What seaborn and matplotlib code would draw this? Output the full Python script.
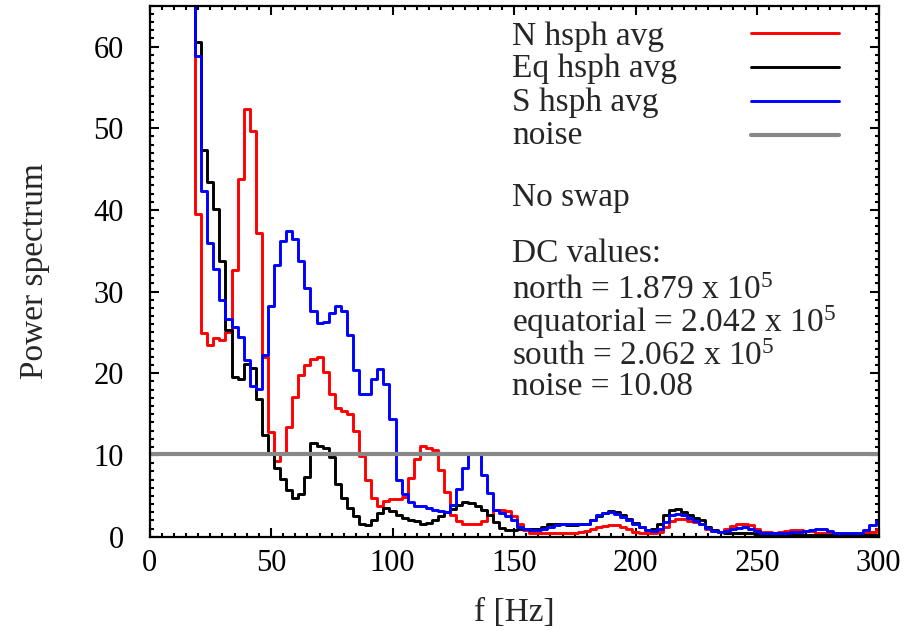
import numpy as np
import pandas as pd
import matplotlib
matplotlib.use("Agg")
import matplotlib.pyplot as plt
from matplotlib.lines import Line2D
from matplotlib.ticker import MultipleLocator
import seaborn as sns

# --- data: step spectra, 2.5 Hz bins starting at 17.5 Hz ---
F_START = 17.5
F_STEP = 2.5

north_avg = [
    90.0, 39.5, 24.9, 23.5, 24.3, 24.1, 25.0, 32.7, 43.8, 52.4,
    49.7, 37.2, 22.0, 12.8, 9.3, 10.1, 13.4, 17.1, 19.8, 21.0,
    21.7, 22.0, 20.2, 17.5, 15.8, 15.4, 15.0, 13.0, 9.9, 7.0,
    4.7, 3.8, 4.4, 4.6, 4.6, 4.9, 7.2, 9.5, 11.1, 10.8,
    10.6, 8.2, 5.5, 2.6, 1.9, 1.5, 1.5, 1.5, 1.9, 2.7,
    3.3, 3.3, 3.1, 2.5, 1.6, 0.8, 0.5, 0.4, 0.4, 0.4,
    0.4, 0.4, 0.5, 0.5, 0.6, 0.7, 1.0, 1.2, 1.3, 1.4,
    1.4, 1.2, 0.9, 0.6, 0.4, 0.4, 0.4, 0.6, 1.2, 1.9,
    2.2, 2.2, 1.9, 1.8, 1.6, 1.0, 0.7, 0.6, 0.9, 1.3,
    1.5, 1.6, 1.4, 0.9, 0.6, 0.6, 0.5, 0.6, 0.7, 0.8,
    0.8, 0.7, 0.7, 0.5, 0.4, 0.4, 0.4, 0.3, 0.3, 0.3,
    0.3, 0.4, 0.6, 1.0,
]

equatorial_avg = [
    90.0, 60.5, 47.3, 43.4, 40.1, 33.7, 25.3, 19.6, 19.3, 21.2,
    20.6, 16.9, 12.4, 10.1, 8.4, 7.1, 5.7, 4.8, 5.2, 7.3,
    11.5, 11.1, 10.9, 9.7, 6.4, 4.7, 3.5, 2.5, 1.6, 1.4,
    2.1, 2.9, 3.5, 3.2, 2.7, 2.3, 2.1, 1.9, 1.6, 1.7,
    2.0, 2.5, 3.0, 3.4, 3.9, 4.2, 4.1, 3.8, 3.3, 2.6,
    1.8, 1.1, 0.8, 0.8, 1.0, 1.0, 0.9, 0.9, 1.2, 1.5,
    1.5, 1.5, 1.4, 1.4, 1.5, 1.6, 2.0, 2.5, 2.9, 3.1,
    3.0, 2.6, 2.2, 1.7, 1.2, 0.8, 0.9, 1.5, 2.7, 3.3,
    3.4, 3.0, 2.6, 2.3, 2.1, 1.2, 0.8, 0.6, 0.5, 0.4,
    0.4, 0.4, 0.4, 0.3, 0.3, 0.3, 0.3, 0.3, 0.2, 0.2,
    0.2, 0.2, 0.2, 0.2, 0.2, 0.2, 0.2, 0.2, 0.2, 0.2,
    0.2, 0.2, 0.2, 0.2,
]

south_avg = [
    90.0, 58.8, 42.3, 36.0, 32.8, 29.0, 26.6, 25.7, 24.5, 21.6,
    18.4, 18.1, 22.2, 28.2, 33.3, 36.2, 37.4, 36.4, 33.8, 30.5,
    27.6, 26.1, 26.3, 27.4, 28.2, 27.6, 24.7, 20.4, 17.5, 17.5,
    19.3, 20.5, 18.7, 14.4, 7.0, 5.2, 4.2, 3.8, 3.7, 3.5,
    3.3, 3.1, 3.0, 3.9, 5.8, 8.4, 10.3, 10.3, 7.6, 5.3,
    3.3, 2.9, 2.5, 2.1, 1.2, 1.0, 0.8, 0.8, 1.0, 1.2,
    1.4, 1.5, 1.5, 1.5, 1.5, 1.6, 2.1, 2.7, 2.9, 3.0,
    2.8, 2.4, 2.0, 1.6, 1.2, 0.8, 0.7, 1.0, 1.8, 2.6,
    2.8, 2.6, 2.3, 1.9, 1.5, 1.1, 0.7, 0.6, 0.7, 0.9,
    1.1, 1.2, 1.0, 0.7, 0.5, 0.4, 0.4, 0.4, 0.5, 0.6,
    0.6, 0.7, 0.8, 0.9, 0.9, 0.7, 0.5, 0.4, 0.4, 0.4,
    0.5, 0.8, 1.4, 1.9,
]

noise_level = 10.08

series_labels = ["N hsph avg", "Eq hsph avg", "S hsph avg"]
series_colors = ["#ff0000", "#000000", "#0000ff"]
noise_label = "noise"
noise_color = "#888888"
note_text = "No swap"
dc_lines = [
    "DC values:",
    r"north = 1.879 x 10$^{5}$",
    r"equatorial = 2.042 x 10$^{5}$",
    r"south = 2.062 x 10$^{5}$",
    "noise = 10.08",
]

# --- style ---
sns.set_style("ticks")
plt.rcParams["font.family"] = ["Liberation Serif", "DejaVu Serif"]
plt.rcParams["mathtext.fontset"] = "custom"
plt.rcParams["mathtext.rm"] = "Liberation Serif"
plt.rcParams["mathtext.it"] = "Liberation Serif:italic"
plt.rcParams["mathtext.bf"] = "Liberation Serif:bold"
TEXT_SIZE = 24
TICK_SIZE = 22
LINE_W = 2.1
NOISE_W = 3.0

# text block layout (axes fraction, baselines)
TEXT_X = 0.497
KEY_BASELINES = [0.926, 0.865, 0.802, 0.740]
NOTE_BASELINE = 0.623
DC_BASELINES = [0.517, 0.448, 0.385, 0.323, 0.267]


def build_frame():
    n = len(north_avg)
    freqs = F_START + F_STEP * np.arange(n)
    frames = []
    for label, vals in zip(series_labels, [north_avg, equatorial_avg, south_avg]):
        frames.append(pd.DataFrame({"f": freqs, "power": vals, "series": label}))
    return pd.concat(frames, ignore_index=True)


def main():
    df = build_frame()
    fig = plt.figure(figsize=(9.24, 6.36), dpi=100)
    ax = fig.add_axes([0.1618, 0.1561, 0.789, 0.835])

    for label, color in zip(series_labels, series_colors):
        sub = df[df["series"] == label]
        sns.lineplot(data=sub, x="f", y="power", ax=ax, color=color,
                     drawstyle="steps-mid", linewidth=LINE_W, estimator=None,
                     sort=False, legend=False)
    ax.axhline(noise_level, color=noise_color, linewidth=NOISE_W)

    ax.set_xlim(0, 300)
    ax.set_ylim(0, 65)
    ax.xaxis.set_major_locator(MultipleLocator(50))
    ax.xaxis.set_minor_locator(MultipleLocator(5))
    ax.yaxis.set_major_locator(MultipleLocator(10))
    ax.yaxis.set_minor_locator(MultipleLocator(1))
    ax.tick_params(which="both", direction="in", top=True, right=True,
                   width=1.5, labelsize=TICK_SIZE, colors="black")
    ax.tick_params(which="major", length=6.5)
    ax.tick_params(which="minor", length=3)
    ax.tick_params(axis="y", which="major", pad=18.5)
    ax.tick_params(axis="x", which="major", pad=9)
    for sp in ax.spines.values():
        sp.set_linewidth(1.6)
        sp.set_color("black")

    ax.set_xlabel("f [Hz]", fontsize=TEXT_SIZE, labelpad=14)
    ax.set_ylabel("Power spectrum", fontsize=TEXT_SIZE, labelpad=31)

    # key: sample lines via legend handles, labels as left-aligned text
    handles = [Line2D([], [], color=c, linewidth=LINE_W) for c in series_colors]
    handles.append(Line2D([], [], color=noise_color, linewidth=NOISE_W))
    ax.legend(handles, [" "] * 4, loc="upper left", bbox_to_anchor=(0.825, 0.970),
              frameon=False, fontsize=TEXT_SIZE, handlelength=2.64,
              handletextpad=0.0, labelspacing=0.10, borderaxespad=0,
              borderpad=0)
    for label, yb in zip(series_labels + [noise_label], KEY_BASELINES):
        ax.text(TEXT_X, yb, label, transform=ax.transAxes,
                fontsize=TEXT_SIZE, va="baseline", ha="left")

    ax.text(TEXT_X, NOTE_BASELINE, note_text, transform=ax.transAxes,
            fontsize=TEXT_SIZE, va="baseline", ha="left")
    for line, yb in zip(dc_lines, DC_BASELINES):
        ax.text(TEXT_X, yb, line, transform=ax.transAxes,
                fontsize=TEXT_SIZE, va="baseline", ha="left")

    fig.savefig("out.png", dpi=100)
    plt.close(fig)


if __name__ == "__main__":
    main()
